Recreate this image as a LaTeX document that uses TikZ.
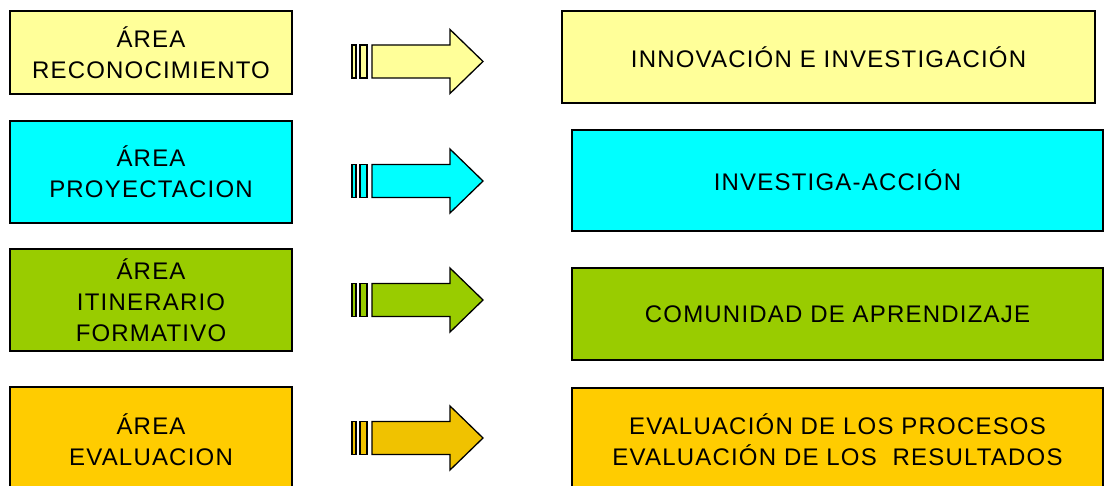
\documentclass[tikz,border=0pt]{standalone}
\usepackage{fontspec}
\setmainfont{Liberation Sans}[LetterSpace=5.0]
\usetikzlibrary{calc,positioning}

\definecolor{amarillo}{RGB}{255,255,153}
\definecolor{celeste}{RGB}{0,255,255}
\definecolor{verde}{RGB}{153,204,0}
\definecolor{naranja}{RGB}{255,204,0}
\definecolor{naranjaF}{RGB}{240,194,0}

\begin{document}
\begin{tikzpicture}[x=1pt, y=-1pt]
    \tikzset{AreaStyle/.style = {draw, line width=1.5pt,
        minimum width=282pt, inner sep=0pt, align=center,
        font=\fontsize{24}{31}\selectfont},
      MetaStyle/.style = {AreaStyle, minimum width=531pt},
      FlechaStyle/.style = {draw, line width=1.3pt, line join=miter}}
    \useasboundingbox (0,0) rectangle (1104,486);
    % areas
    \node[AreaStyle, fill=amarillo, minimum height=83pt] (A1) at (151,52.5) {ÁREA\\RECONOCIMIENTO};
    \node[AreaStyle, fill=celeste, minimum height=102pt] (A2) at (151,172) {ÁREA\\PROYECTACION};
    \node[AreaStyle, fill=verde, minimum height=102pt] (A3) at (151,300) {ÁREA\\ITINERARIO\\FORMATIVO};
    \node[AreaStyle, fill=naranja, minimum height=106pt] (A4) at (151,440) {ÁREA\\EVALUACION};
    % metas
    \node[MetaStyle, fill=amarillo, minimum width=533pt, minimum height=92pt] (M1) at (828.5,57) {INNOVACIÓN E INVESTIGACIÓN};
    \node[MetaStyle, fill=celeste, minimum height=101pt] (M2) at (837.5,180.5) {INVESTIGA-ACCIÓN};
    \node[MetaStyle, fill=verde, minimum height=92pt] (M3) at (837.5,314) {COMUNIDAD DE APRENDIZAJE};
    \node[MetaStyle, fill=naranja, minimum height=104pt] (M4) at (837.5,440) {EVALUACIÓN DE LOS PROCESOS\\EVALUACIÓN DE LOS\ \ RESULTADOS};
    % flechas
    \foreach \n/\y/\c in {1/61.5/amarillo, 2/181/celeste, 3/300/verde, 4/438/naranjaF}{
      \coordinate (F\n) at (372,\y);
      \draw[FlechaStyle, fill=\c] (F\n) ++(0,-16.5) -- ++(78,0) -- ++(0,-15.5)
        -- ++(33,32) -- ++(-33,32) -- ++(0,-15.5) -- ++(-78,0) -- cycle;
      \draw[FlechaStyle, fill=\c] ($(F\n)+(-20,-16.5)$) rectangle ($(F\n)+(-16,16.5)$);
      \draw[FlechaStyle, fill=\c] ($(F\n)+(-12,-16.5)$) rectangle ($(F\n)+(-5,16.5)$);
    }
  \end{tikzpicture}
\end{document}
